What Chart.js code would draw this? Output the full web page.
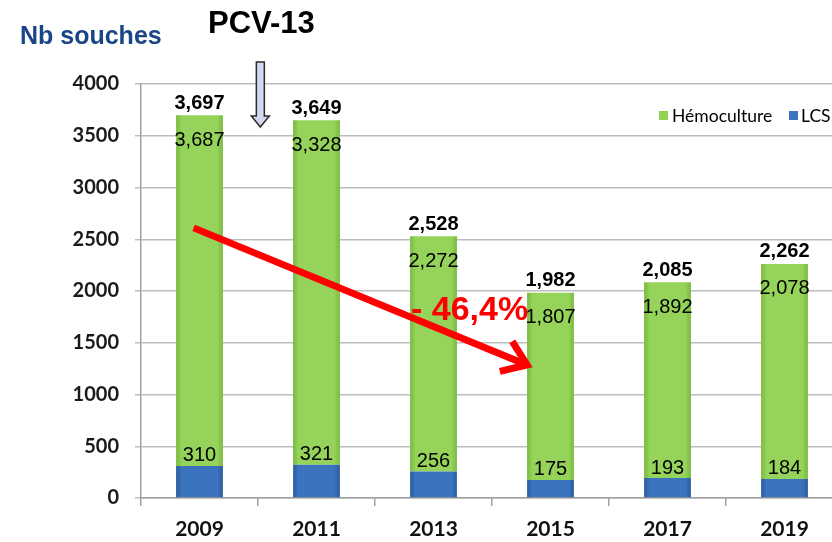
<!DOCTYPE html>
<html lang="fr">
<head>
    <meta charset="UTF-8">
    <title>Nb souches</title>
    <script src="https://cdn.jsdelivr.net/npm/chart.js"></script>
    <style>
        html, body { margin: 0; padding: 0; background: #fff; overflow: hidden; }
        #wrap { position: absolute; left: 0; top: 0; width: 843px; height: 542px; }
    </style>
</head>
<body>
    <div id="wrap"><canvas id="chart"></canvas></div>

    <script>
        // values
        const years = ['2009', '2011', '2013', '2015', '2017', '2019'];
        const lcs = [310, 321, 256, 175, 193, 184];
        const hemoculture = [3387, 3328, 2272, 1807, 1892, 2078];
        const totals = [3697, 3649, 2528, 1982, 2085, 2262];
        const hemoLabels = ['3,687', '3,328', '2,272', '1,807', '1,892', '2,078'];
        const yTicks = [0, 500, 1000, 1500, 2000, 2500, 3000, 3500, 4000];

        const fmt = n => n.toLocaleString('en-US');

        // horizontal gradient across each bar, for the bevelled look
        function barFill(edge, mid) {
            return function(ctx) {
                const chart = ctx.chart;
                if (!chart.chartArea) return mid;
                const x = chart.scales.x.getPixelForValue(ctx.dataIndex);
                const half = 23.5;
                const g = chart.ctx.createLinearGradient(x - half, 0, x + half, 0);
                g.addColorStop(0, edge);
                g.addColorStop(0.12, mid);
                g.addColorStop(0.88, mid);
                g.addColorStop(1, edge);
                return g;
            };
        }

        const labelsPlugin = {
            id: 'labels',
            afterDatasetsDraw(chart) {
                const c = chart.ctx;
                const x = chart.scales.x, y = chart.scales.y;
                c.save();
                c.textAlign = 'center';
                c.textBaseline = 'middle';
                c.fillStyle = '#000';
                years.forEach((yr, i) => {
                    const px = x.getPixelForValue(i);
                    const top = y.getPixelForValue(lcs[i] + hemoculture[i]);
                    c.font = 'bold 20px "Liberation Sans", Arial, sans-serif';
                    c.fillText(fmt(totals[i]), px, top - 12);
                    c.font = '20px "Liberation Sans", Arial, sans-serif';
                    c.fillText(hemoLabels[i], px, top + 25);
                    c.fillText(fmt(lcs[i]), px, y.getPixelForValue(lcs[i]) - 10);
                });
                c.restore();
            },
            afterDraw(chart) {
                const c = chart.ctx;
                const x = chart.scales.x, y = chart.scales.y;
                c.save();

                // legend inside the plot, top right
                c.font = '17.5px Lato, "Open Sans", sans-serif';
                c.textBaseline = 'middle';
                c.textAlign = 'left';
                c.fillStyle = '#92d050';
                c.fillRect(659, 111, 9, 9);
                c.fillStyle = '#000';
                c.fillText('Hémoculture', 672, 116);
                c.fillStyle = '#3b73bf';
                c.fillRect(789, 111, 9, 9);
                c.fillStyle = '#000';
                c.fillText('LCS', 801, 116);

                // titles
                c.font = 'bold 25px "Liberation Sans", Arial, sans-serif';
                c.fillStyle = '#1a4586';
                c.fillText('Nb souches', 20, 37);
                c.font = 'bold 31px "Liberation Sans", Arial, sans-serif';
                c.fillStyle = '#000';
                c.fillText('PCV-13', 208, 24);

                // PCV-13 down arrow
                const ax = x.getPixelForValue(0.52);
                c.beginPath();
                c.moveTo(ax - 4, 62);
                c.lineTo(ax + 4, 62);
                c.lineTo(ax + 4, 116);
                c.lineTo(ax + 9, 116);
                c.lineTo(ax, 127);
                c.lineTo(ax - 9, 116);
                c.lineTo(ax - 4, 116);
                c.closePath();
                c.fillStyle = '#d4d6f2';
                c.fill();
                c.lineWidth = 1.5;
                c.strokeStyle = '#2a2a2a';
                c.stroke();

                // red trend arrow
                const x0 = x.getPixelForValue(-0.05), y0 = y.getPixelForValue(2610);
                const x1 = x.getPixelForValue(2.8), y1 = y.getPixelForValue(1285);
                c.strokeStyle = '#ff0000';
                c.lineWidth = 7;
                c.lineCap = 'butt';
                c.beginPath();
                c.moveTo(x0, y0);
                c.lineTo(x1, y1);
                c.stroke();
                const ang = Math.atan2(y1 - y0, x1 - x0);
                const len = 28, spread = 0.62;
                c.lineJoin = 'miter';
                c.beginPath();
                c.moveTo(x1 - len * Math.cos(ang - spread), y1 - len * Math.sin(ang - spread));
                c.lineTo(x1, y1);
                c.lineTo(x1 - len * Math.cos(ang + spread), y1 - len * Math.sin(ang + spread));
                c.stroke();

                c.font = 'bold 34px "Liberation Sans", Arial, sans-serif';
                c.fillStyle = '#ff0000';
                c.fillText('- 46,4%', 411, 311);
                c.restore();
            }
        };

        new Chart(document.getElementById('chart'), {
            type: 'bar',
            data: {
                labels: years,
                datasets: [{
                    label: 'LCS',
                    data: lcs,
                    backgroundColor: barFill('#2a5a9a', '#3b73bf'),
                    borderWidth: 0,
                    barPercentage: 0.4,
                    categoryPercentage: 1
                }, {
                    label: 'Hémoculture',
                    data: hemoculture,
                    backgroundColor: barFill('#76b83c', '#95d35a'),
                    borderWidth: 0,
                    barPercentage: 0.4,
                    categoryPercentage: 1
                }]
            },
            options: {
                responsive: true,
                maintainAspectRatio: false,
                animation: false,
                layout: { padding: { top: 84, right: 0, left: 0, bottom: 0 } },
                plugins: { legend: { display: false }, tooltip: { enabled: false } },
                scales: {
                    x: {
                        stacked: true,
                        afterFit(s) { s.height = 44; },
                        border: { color: '#a0a0a0', width: 1.5 },
                        grid: { offset: true, drawOnChartArea: false, drawTicks: true, tickLength: 8, color: '#a0a0a0', lineWidth: 1.5 },
                        ticks: { padding: 11, color: '#111', font: { family: 'Lato, "Open Sans", sans-serif', size: 21, weight: 'bold' } }
                    },
                    y: {
                        stacked: true,
                        min: 0,
                        max: 4000,
                        afterFit(s) { s.width = 141; },
                        afterBuildTicks(s) { s.ticks = yTicks.map(v => ({ value: v })); },
                        border: { color: '#a0a0a0', width: 1.5 },
                        grid: { color: '#bdbdbd', lineWidth: 1.5, tickLength: 6 },
                        ticks: {
                            padding: 16,
                            color: '#1a1a1a',
                            callback: v => String(v),
                            font: { family: 'Lato, "Open Sans", sans-serif', size: 20, weight: 'bold' }
                        }
                    }
                }
            },
            plugins: [labelsPlugin]
        });
    </script>
</body>
</html>
